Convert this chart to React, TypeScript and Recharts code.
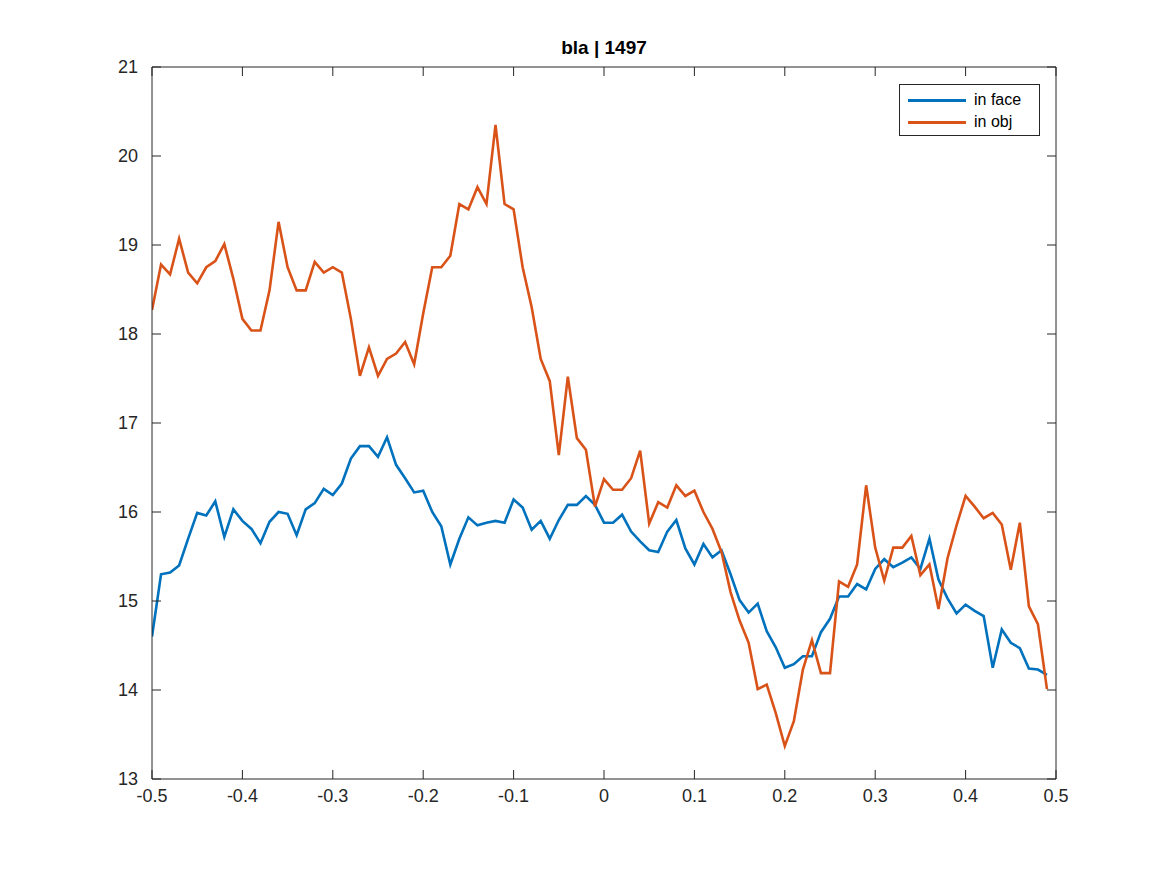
import React from 'react'
import { LineChart, Line, XAxis, YAxis } from 'recharts'

const xs = Array.from({ length: 100 }, (_, i) => Math.round((-0.5 + i * 0.01) * 100) / 100)

const inFace = [
  14.60, 15.30, 15.32, 15.40, 15.70, 15.99, 15.96, 16.12, 15.72, 16.03,
  15.90, 15.81, 15.65, 15.89, 16.00, 15.98, 15.74, 16.03, 16.10, 16.26,
  16.19, 16.32, 16.60, 16.74, 16.74, 16.62, 16.84, 16.53, 16.38, 16.22,
  16.24, 16.00, 15.84, 15.41, 15.70, 15.94, 15.85, 15.88, 15.90, 15.88,
  16.14, 16.05, 15.80, 15.90, 15.70, 15.91, 16.08, 16.08, 16.18, 16.08,
  15.88, 15.88, 15.97, 15.78, 15.67, 15.57, 15.55, 15.78, 15.91, 15.59,
  15.41, 15.64, 15.49, 15.57, 15.30, 15.01, 14.87, 14.97, 14.66, 14.48,
  14.25, 14.29, 14.38, 14.38, 14.65, 14.80, 15.05, 15.05, 15.19, 15.13,
  15.36, 15.47, 15.38, 15.43, 15.49, 15.36, 15.70, 15.24, 15.03, 14.86,
  14.96, 14.89, 14.83, 14.25, 14.68, 14.53, 14.47, 14.24, 14.23, 14.17,
]

const inObj = [
  18.27, 18.78, 18.67, 19.07, 18.69, 18.57, 18.75, 18.82, 19.01, 18.62,
  18.17, 18.04, 18.04, 18.49, 19.26, 18.75, 18.49, 18.49, 18.81, 18.69,
  18.75, 18.69, 18.17, 17.53, 17.85, 17.53, 17.72, 17.78, 17.91, 17.66,
  18.23, 18.75, 18.75, 18.88, 19.46, 19.40, 19.65, 19.46, 20.35, 19.46,
  19.40, 18.75, 18.30, 17.72, 17.47, 16.64, 17.52, 16.83, 16.70, 16.06,
  16.37, 16.25, 16.25, 16.38, 16.69, 15.87, 16.11, 16.05, 16.30, 16.18,
  16.24, 16.00, 15.81, 15.55, 15.10, 14.78, 14.53, 14.01, 14.06, 13.74,
  13.37, 13.65, 14.23, 14.56, 14.19, 14.19, 15.22, 15.16, 15.41, 16.30,
  15.60, 15.23, 15.60, 15.60, 15.73, 15.29, 15.41, 14.91, 15.48, 15.85,
  16.18, 16.06, 15.93, 15.99, 15.86, 15.35, 15.88, 14.94, 14.74, 14.01,
]

const xTicks = [-0.5, -0.4, -0.3, -0.2, -0.1, 0, 0.1, 0.2, 0.3, 0.4, 0.5]
const yTicks = [13, 14, 15, 16, 17, 18, 19, 20, 21]

const data = xs.map((x, i) => ({ x, face: inFace[i], obj: inObj[i] }))

const font = { fontFamily: 'Liberation Sans, Arial, sans-serif', fontSize: 18, fill: '#262626' }
const axisLine = { stroke: '#262626', strokeWidth: 1 }
const blank = () => ''

export default function App() {
  return (
    <div style={{ position: 'relative', width: 1151, height: 860, fontFamily: 'Liberation Sans, Arial, sans-serif' }}>
      <div style={{ position: 'absolute', top: 29, left: 144, width: 904, textAlign: 'center', fontWeight: 'bold', fontSize: 19, color: '#000' }}>
        bla | 1497
      </div>
      <LineChart width={1151} height={860} data={data} margin={{ top: 59, right: 103, bottom: 59, left: 84 }}>
        <XAxis xAxisId="b" dataKey="x" type="number" domain={[-0.5, 0.5]} ticks={xTicks} allowDataOverflow
          height={30} tick={font} tickLine={false} axisLine={axisLine} tickFormatter={(v) => String(v)} tickMargin={4} />
        <XAxis xAxisId="bm" dataKey="x" type="number" domain={[-0.5, 0.5]} ticks={xTicks} allowDataOverflow
          height={1} mirror tickSize={9} tickLine={axisLine} axisLine={false} tickFormatter={blank} />
        <XAxis xAxisId="t" dataKey="x" type="number" domain={[-0.5, 0.5]} ticks={xTicks} allowDataOverflow
          orientation="top" height={1} mirror tickSize={9} tickLine={axisLine} axisLine={axisLine} tickFormatter={blank} />
        <YAxis yAxisId="l" type="number" domain={[13, 21]} ticks={yTicks} allowDataOverflow
          width={60} tick={font} tickLine={false} axisLine={axisLine} tickMargin={8} />
        <YAxis yAxisId="lm" type="number" domain={[13, 21]} ticks={yTicks} allowDataOverflow
          width={1} mirror tickSize={9} tickLine={axisLine} axisLine={false} tickFormatter={blank} />
        <YAxis yAxisId="r" type="number" domain={[13, 21]} ticks={yTicks} allowDataOverflow
          orientation="right" width={1} mirror tickSize={9} tickLine={axisLine} axisLine={axisLine} tickFormatter={blank} />
        <Line xAxisId="bm" yAxisId="lm" dataKey="face" stroke="none" dot={false} isAnimationActive={false} />
        <Line xAxisId="t" yAxisId="r" dataKey="face" stroke="none" dot={false} isAnimationActive={false} />
        <Line xAxisId="b" yAxisId="l" dataKey="face" stroke="#0072BD" strokeWidth={2.6} dot={false} isAnimationActive={false} />
        <Line xAxisId="b" yAxisId="l" dataKey="obj" stroke="#D95319" strokeWidth={2.6} dot={false} isAnimationActive={false} />
      </LineChart>
      <div style={{ position: 'absolute', left: 891, top: 76, width: 141, height: 52, border: '1px solid #262626', background: '#fff', fontSize: 16, color: '#000', boxSizing: 'border-box' }}>
        {[['in face', '#0072BD'], ['in obj', '#D95319']].map(([label, c], i) => (
          <div key={label} style={{ position: 'absolute', left: 8, top: 6 + i * 22, display: 'flex', alignItems: 'center' }}>
            <span style={{ display: 'inline-block', width: 58, height: 3, background: c, marginRight: 8 }} />
            <span>{label}</span>
          </div>
        ))}
      </div>
    </div>
  )
}
